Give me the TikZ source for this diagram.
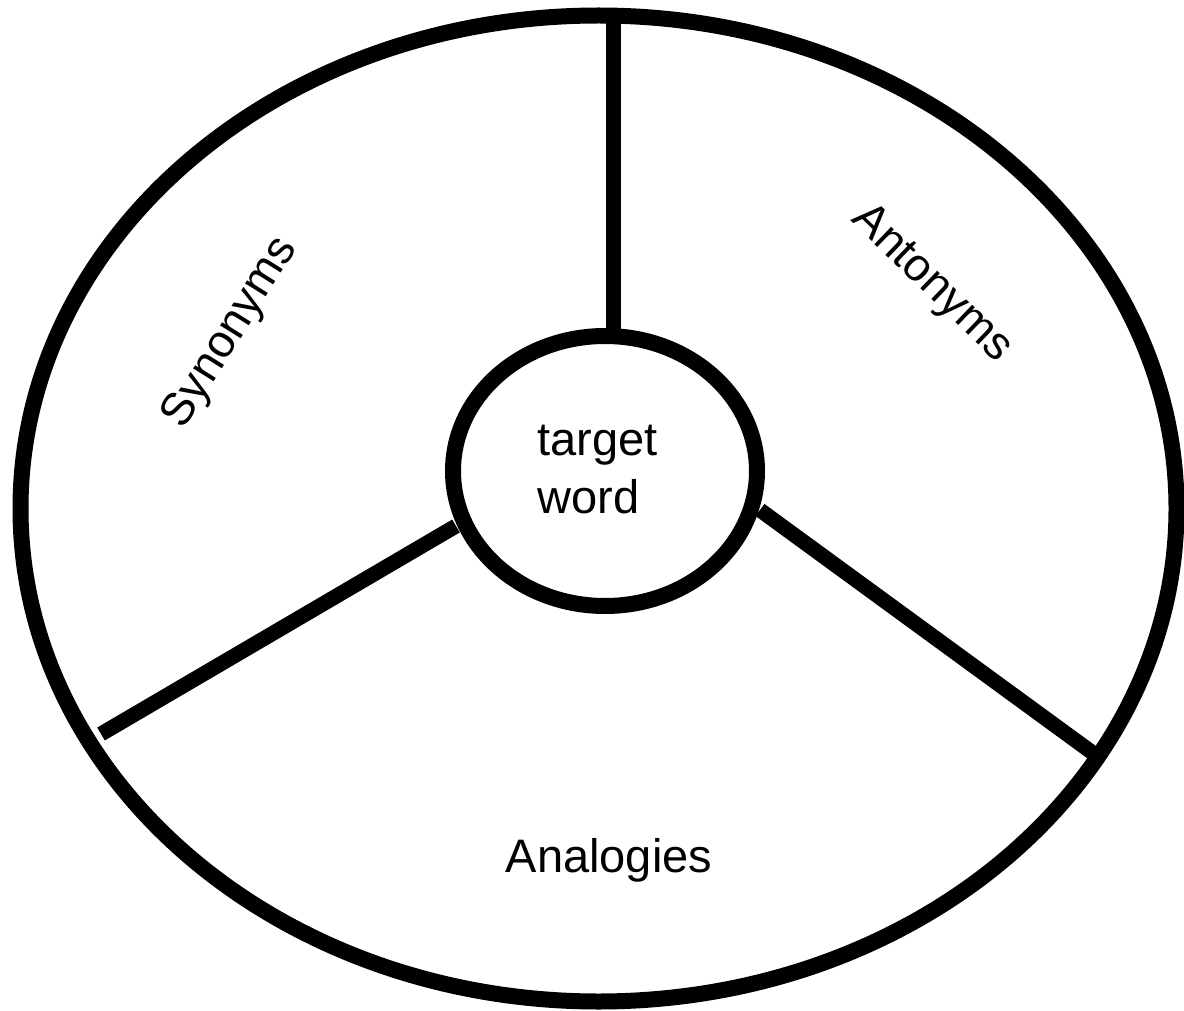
\documentclass[tikz,border=0pt]{standalone}
\usepackage{fontspec}
\setmainfont{Liberation Sans}
\usetikzlibrary{shapes.geometric}
\begin{document}
\begin{tikzpicture}[x=1pt,y=-1pt,
  ring/.style={draw=black, line width=16pt, ellipse, inner sep=0pt, fill=none},
  divider/.style={draw=black, line width=15pt, line cap=butt},
  lbl/.style={font=\fontsize{47}{58}\selectfont, inner sep=0pt},
  slbl/.style={font=\fontsize{46}{55}\selectfont, inner sep=0pt}]
\useasboundingbox (0,0) rectangle (1184,1011);
\node[ring, minimum width=1156pt, minimum height=986pt] (outer) at (598.5,508.5) {};
\node[ring, minimum width=304pt, minimum height=270pt] (inner) at (605,471) {};
\coordinate (t1) at (613,14);
\coordinate (t2) at (613,329);
\coordinate (l1) at (456,526);
\coordinate (l2) at (101,734);
\coordinate (r1) at (760,510);
\coordinate (r2) at (1101,759);
\draw[divider] (t1) -- (t2);
\draw[divider] (l1) -- (l2);
\draw[divider] (r1) -- (r2);
\node[lbl, align=left] (tw) at (597.5,470) {target\\word};
\node[lbl, anchor=base] (ana) at (609,872) {Analogies};
\node[slbl, rotate=58] (syn) at (231,333) {Synonyms};
\node[slbl, rotate=-44] (ant) at (931.5,284) {Antonyms};
\end{tikzpicture}
\end{document}
